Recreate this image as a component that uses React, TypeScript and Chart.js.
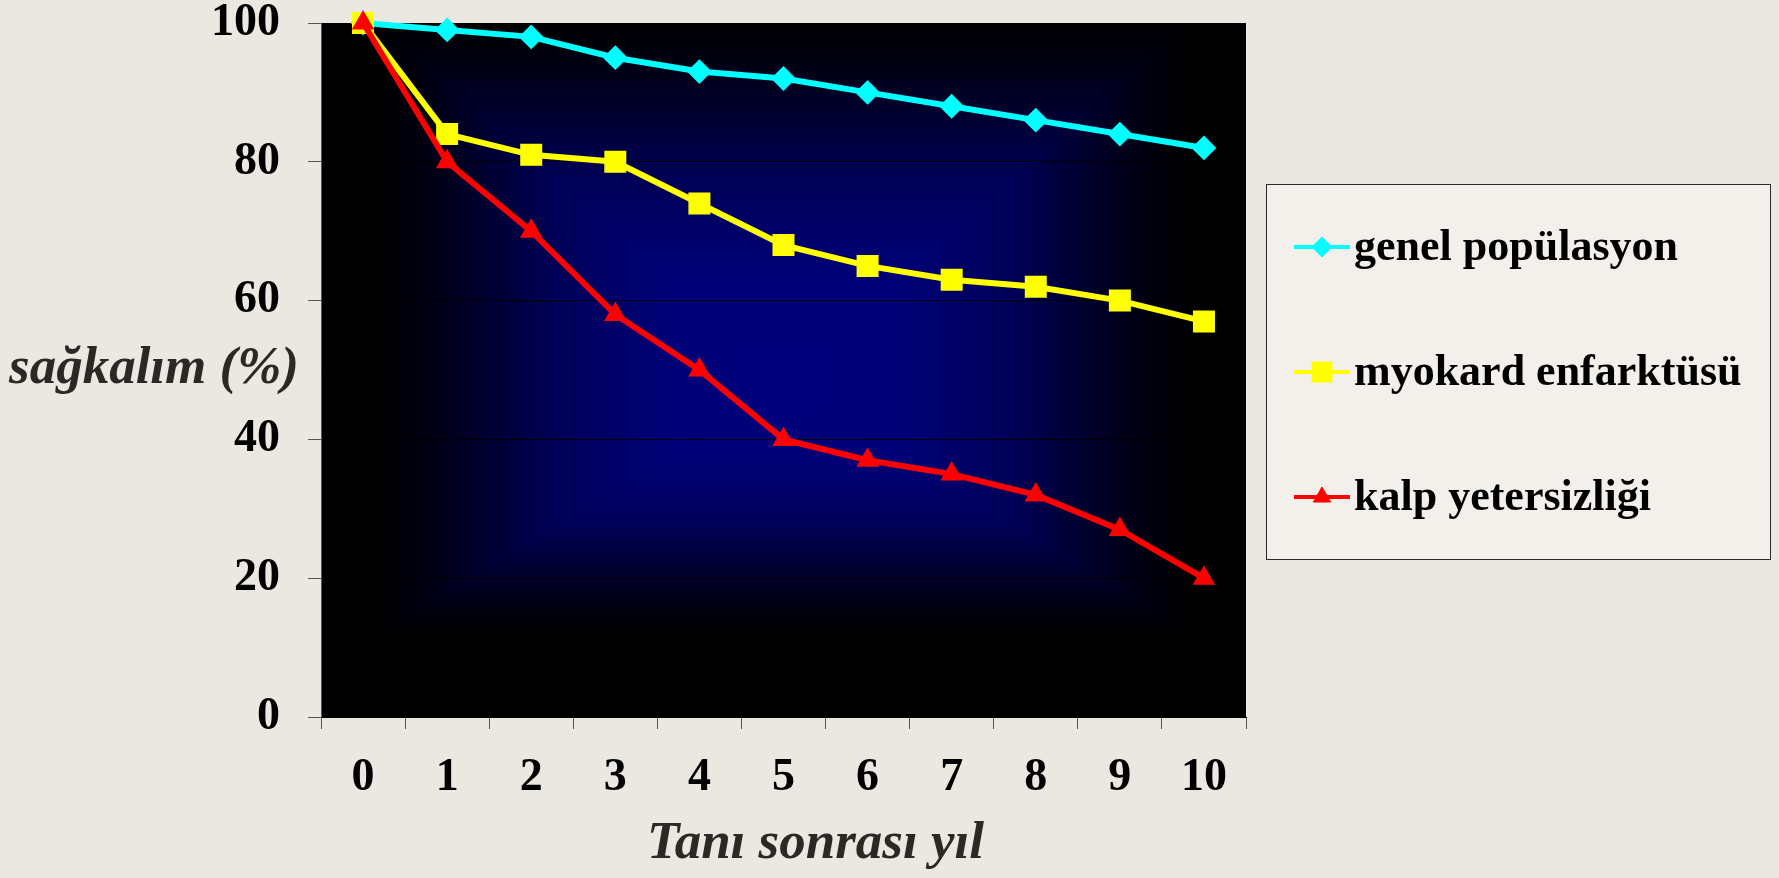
import React, { useEffect, useRef } from 'react';
import { Chart, registerables } from 'chart.js';

Chart.register(...registerables);

// ---- data ----
const years = ['0', '1', '2', '3', '4', '5', '6', '7', '8', '9', '10'];
const genelPopulasyon = [100, 99, 98, 95, 93, 92, 90, 88, 86, 84, 82];
const myokardEnfarktusu = [100, 84, 81, 80, 74, 68, 65, 63, 62, 60, 57];
const kalpYetersizligi = [100, 80, 70, 58, 50, 40, 37, 35, 32, 27, 20];
const seriesLabels = ['genel popülasyon', 'myokard enfarktüsü', 'kalp yetersizliği'];
const seriesColors = ['#00FFFF', '#FFFF00', '#FF0000'];
const seriesMarkers = ['rectRot', 'rect', 'triangle'];
const yMin = 0;
const yMax = 100;
const yStep = 20;
const xTitle = 'Tanı sonrası yıl';
const yTitle = 'sağkalım (%)';

const SERIF = '"Liberation Serif", "Times New Roman", Times, serif';

function drawMarker(ctx: CanvasRenderingContext2D, style: string, x: number, y: number, color: string) {
  ctx.save();
  ctx.fillStyle = color;
  ctx.strokeStyle = color;
  ctx.lineWidth = 1;
  ctx.lineJoin = 'round';
  ctx.beginPath();
  if (style === 'rectRot') {
    const r = 10;
    ctx.moveTo(x - r, y);
    ctx.lineTo(x, y - r);
    ctx.lineTo(x + r, y);
    ctx.lineTo(x, y + r);
  } else if (style === 'rect') {
    const s = 10;
    ctx.rect(x - s, y - s, 2 * s, 2 * s);
  } else {
    const r = 10;
    ctx.moveTo(x, y - r);
    ctx.lineTo(x + r * 0.866, y + r * 0.5);
    ctx.lineTo(x - r * 0.866, y + r * 0.5);
  }
  ctx.closePath();
  ctx.fill();
  ctx.stroke();
  ctx.restore();
}

const plotBackground = {
  id: 'plotBackground',
  beforeDraw(chart: any) {
    const { ctx, chartArea: a } = chart;
    const w = a.right - a.left;
    const h = a.bottom - a.top;
    ctx.save();
    ctx.fillStyle = '#000000';
    ctx.fillRect(a.left, a.top, w, h);
    // rectangular "from centre" gradient
    const x0 = a.left + w * 0.06;
    const x1 = a.left + w * 0.94;
    const y0 = a.top - 6;
    const y1 = a.top + h * 0.885;
    const cx = a.left + w * 0.5;
    const cy = a.top + h * 0.52;
    const parts: [number, number, number, number, number, number, number, number][] = [
      [x0, y0, x1, y0, cx, cy, cx, y0],
      [x1, y0, x1, y1, cx, cy, x1, cy],
      [x1, y1, x0, y1, cx, cy, cx, y1],
      [x0, y1, x0, y0, cx, cy, x0, cy],
    ];
    ctx.beginPath();
    ctx.rect(a.left, a.top, w, h);
    ctx.clip();
    for (const [ax, ay, bx, by, gx0, gy0, gx1, gy1] of parts) {
      const g = ctx.createLinearGradient(gx0, gy0, gx1, gy1);
      g.addColorStop(0, 'rgb(0,0,125)');
      g.addColorStop(0.3, 'rgb(0,0,118)');
      g.addColorStop(0.55, 'rgb(0,0,88)');
      g.addColorStop(0.75, 'rgb(0,0,45)');
      g.addColorStop(0.9, 'rgb(0,0,14)');
      g.addColorStop(1, 'rgb(0,0,0)');
      ctx.beginPath();
      ctx.moveTo(cx, cy);
      ctx.lineTo(ax, ay);
      ctx.lineTo(bx, by);
      ctx.closePath();
      ctx.fillStyle = g;
      ctx.strokeStyle = g;
      ctx.lineWidth = 1.5;
      ctx.fill();
      ctx.stroke();
    }
    ctx.restore();
  },
};

const annotations = {
  id: 'annotations',
  afterDraw(chart: any) {
    const { ctx, chartArea: a } = chart;
    ctx.save();
    // axis titles
    ctx.fillStyle = '#2b2926';
    ctx.font = `italic bold 53px ${SERIF}`;
    ctx.textBaseline = 'alphabetic';
    ctx.textAlign = 'center';
    ctx.fillText(xTitle, (a.left + a.right) / 2 + 32, 858);
    ctx.textAlign = 'right';
    ctx.fillText(yTitle, a.left - 22, 383);

    // legend
    const bx = a.right + 20;
    const by = 184;
    const bw = 504;
    const bh = 375;
    ctx.fillStyle = '#f3f0eb';
    ctx.fillRect(bx, by, bw, bh);
    ctx.strokeStyle = '#2a2a2a';
    ctx.lineWidth = 1;
    ctx.strokeRect(bx + 0.5, by + 0.5, bw, bh);
    ctx.font = `bold 44px ${SERIF}`;
    ctx.textAlign = 'left';
    ctx.textBaseline = 'alphabetic';
    for (let i = 0; i < seriesLabels.length; i++) {
      const y = by + 63 + i * 125;
      const lx0 = bx + 28;
      const lx1 = bx + 84;
      ctx.strokeStyle = seriesColors[i];
      ctx.lineWidth = 4;
      ctx.beginPath();
      ctx.moveTo(lx0, y);
      ctx.lineTo(lx1, y);
      ctx.stroke();
      drawMarker(ctx, seriesMarkers[i], (lx0 + lx1) / 2, y, seriesColors[i]);
      ctx.fillStyle = '#000000';
      ctx.fillText(seriesLabels[i], bx + 88, y + 13);
    }
    ctx.restore();
  },
};

export default function App() {
  const canvasRef = useRef<HTMLCanvasElement>(null);

  useEffect(() => {
    document.body.style.margin = '0';
    const canvas = canvasRef.current!;
    const values = [genelPopulasyon, myokardEnfarktusu, kalpYetersizligi];
    const radii = [11, 14.5, 11];
    const borders = [2, 1.5, 2];
    const orders = [2, 1, 0];
    const chart = new Chart(canvas, {
      type: 'line',
      data: {
        labels: years,
        datasets: values.map((d, i) => ({
          label: seriesLabels[i],
          data: d,
          borderColor: seriesColors[i],
          backgroundColor: seriesColors[i],
          borderWidth: 6,
          pointStyle: seriesMarkers[i] as any,
          pointRadius: radii[i],
          pointHoverRadius: radii[i],
          pointBorderWidth: borders[i],
          pointBackgroundColor: seriesColors[i],
          pointBorderColor: seriesColors[i],
          tension: 0,
          fill: false,
          clip: false as any,
          order: orders[i],
        })),
      },
      options: {
        responsive: false,
        animation: false,
        events: [],
        layout: { padding: { left: 0, top: 23, right: 533, bottom: 0 } },
        plugins: {
          legend: { display: false },
          tooltip: { enabled: false },
          title: { display: false },
        },
        scales: {
          x: {
            type: 'category',
            offset: true,
            grid: {
              offset: true,
              drawOnChartArea: false,
              tickLength: 12,
              color: '#555555',
              tickColor: '#555555',
            },
            border: { display: true, color: '#000000' },
            ticks: {
              color: '#000000',
              font: { family: SERIF, size: 46, weight: 'bold' },
              padding: 22,
              maxRotation: 0,
              autoSkip: false,
            },
            afterFit(scale: any) {
              scale.height = 878 - 717;
              scale.paddingLeft = 0;
              scale.paddingRight = 0;
            },
          },
          y: {
            min: yMin,
            max: yMax,
            grid: {
              color: '#000000',
              tickColor: '#555555',
              tickLength: 13,
              lineWidth: 1,
            },
            border: { display: true, color: '#555555' },
            ticks: {
              stepSize: yStep,
              color: '#000000',
              font: { family: SERIF, size: 46, weight: 'bold' },
              padding: 28,
            },
            afterFit(scale: any) {
              scale.width = 321;
              scale.paddingTop = 0;
              scale.paddingBottom = 0;
            },
          },
        },
      },
      plugins: [plotBackground, annotations],
    } as any);
    return () => chart.destroy();
  }, []);

  return (
    <div
      style={{
        position: 'absolute',
        left: 0,
        top: 0,
        width: 1779,
        height: 878,
        background: '#ebe7e1',
        overflow: 'hidden',
      }}
    >
      <canvas ref={canvasRef} width={1779} height={878} style={{ display: 'block', width: 1779, height: 878 }} />
    </div>
  );
}
